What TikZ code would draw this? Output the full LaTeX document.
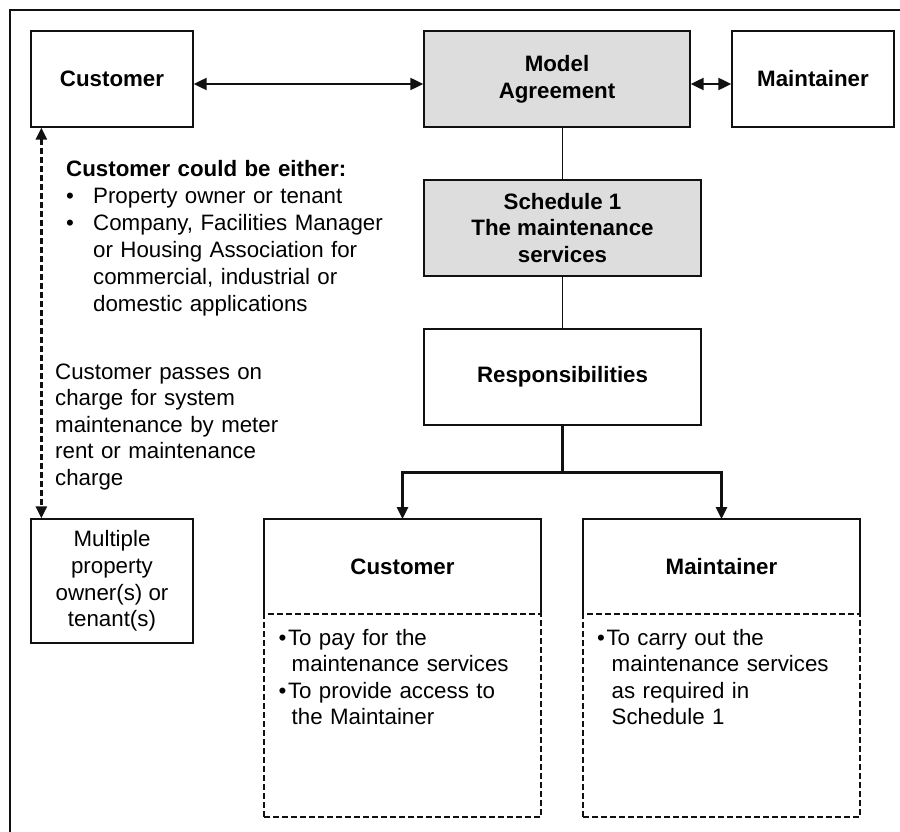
\documentclass[tikz,border=0pt]{standalone}
\usepackage{fontspec}
\setmainfont{Liberation Sans}
\usetikzlibrary{arrows.meta}
\definecolor{boxgray}{HTML}{DDDDDD}
\definecolor{ink}{HTML}{111111}
\newcommand\dfs{\fontsize{22.3}{26.6}\selectfont}
\tikzset{
  box/.style={draw=ink, line width=1.3pt, inner sep=0pt, align=center, font=\dfs\bfseries},
  graybox/.style={box, fill=boxgray},
  plainbox/.style={draw=ink, line width=1.3pt, inner sep=0pt, align=center, font=\dfs},
  dashbox/.style={draw=ink, line width=2.2pt, dash pattern=on 6pt off 3pt, inner sep=0pt},
  titlepart/.style={inner sep=0pt, outer sep=0pt, align=center, font=\dfs\bfseries},
  txt/.style={anchor=base west, inner sep=0pt, align=left, text width=340pt, font=\dfs},
  dbl/.style={line width=2pt, ink, {Triangle[length=13pt,width=12pt]}-{Triangle[length=13pt,width=12pt]}},
  thin/.style={line width=1pt, ink},
  thickarrow/.style={line width=2.6pt, ink, -{Triangle[length=12pt,width=11pt]}},
  dasharrow/.style={line width=2.5pt, ink, dash pattern=on 6pt off 3pt, {Triangle[length=12pt,width=11pt]}-{Triangle[length=12pt,width=11pt]}}
}
\begin{document}
\begin{tikzpicture}[x=1pt,y=-1pt]
\useasboundingbox (0,0) rectangle (900,832);
\fill[white] (0,0) rectangle (900,832);
% frame
\draw[line width=2pt, ink] (10,850) -- (10,10) -- (910,10);

% top row
\node[box, minimum width=162pt, minimum height=96pt] (cust) at (112,79) {Customer};
\node[graybox, minimum width=266pt, minimum height=96pt] (model) at (557,79) {Model\\Agreement};
\node[box, minimum width=162pt, minimum height=96pt] (maint) at (813,79) {Maintainer};

% middle column
\node[graybox, minimum width=277pt, minimum height=96pt] (sched) at (562.5,228) {Schedule 1\\The maintenance\\services};
\node[box, minimum width=277pt, minimum height=96pt] (resp) at (562.5,377) {Responsibilities};

% left box
\node[plainbox, minimum width=162pt, minimum height=124pt] (multi) at (112,581) {Multiple\\property\\owner(s) or\\tenant(s)};

% lower customer box
\node[titlepart, minimum width=277pt, minimum height=95pt] (lcust) at (402.5,566.5) {Customer};
\node[dashbox, minimum width=277pt, minimum height=203pt] (lcustb) at (402.5,715.5) {};
\draw[line width=1.3pt, ink] (lcust.south west) -- (lcust.north west) -- (lcust.north east) -- (lcust.south east);
\node[txt] (lcustt) at (291.5,645) {\leavevmode\hspace*{-13pt}•\hspace{1.5pt}To pay for the\\maintenance services\\\leavevmode\hspace*{-13pt}•\hspace{1.5pt}To provide access to\\the Maintainer};

% lower maintainer box
\node[titlepart, minimum width=277pt, minimum height=95pt] (lmaint) at (721.5,566.5) {Maintainer};
\node[dashbox, minimum width=277pt, minimum height=203pt] (lmaintb) at (721.5,715.5) {};
\draw[line width=1.3pt, ink] (lmaint.south west) -- (lmaint.north west) -- (lmaint.north east) -- (lmaint.south east);
\node[txt] (lmaintt) at (611.5,645) {\leavevmode\hspace*{-14.5pt}•\hspace{1.5pt}To carry out the\\maintenance services\\as required in\\Schedule 1};

% free texts
\node[txt, font=\fontsize{22.3}{27}\selectfont] (either) at (66,177) {\textbf{Customer could be either:}\\
\makebox[27pt][l]{•}Property owner or tenant\\
\makebox[27pt][l]{•}Company, Facilities Manager\\
\hspace*{27pt}or Housing Association for\\
\hspace*{27pt}commercial, industrial or\\
\hspace*{27pt}domestic applications};
\node[txt] (passes) at (55,379) {Customer passes on\\charge for system\\maintenance by meter\\rent or maintenance\\charge};

% connectors
\draw[dbl] ([yshift=-5pt]cust.east) -- ([yshift=-5pt]model.west);
\draw[dbl] ([yshift=-5pt]model.east) -- ([yshift=-5pt]maint.west);
\draw[thin] (sched.north) -- (sched.north |- model.south);
\draw[thin] (sched.south) -- (resp.north);
\draw[line width=2.6pt, ink] (resp.south) -- ++(0,47) coordinate (j);
\draw[thickarrow] (j) -| (lcust.north);
\draw[thickarrow] (j) -| (lmaint.north);
\draw[dasharrow] ([xshift=11pt]cust.south west) -- ([xshift=11pt]multi.north west);
\end{tikzpicture}
\end{document}
